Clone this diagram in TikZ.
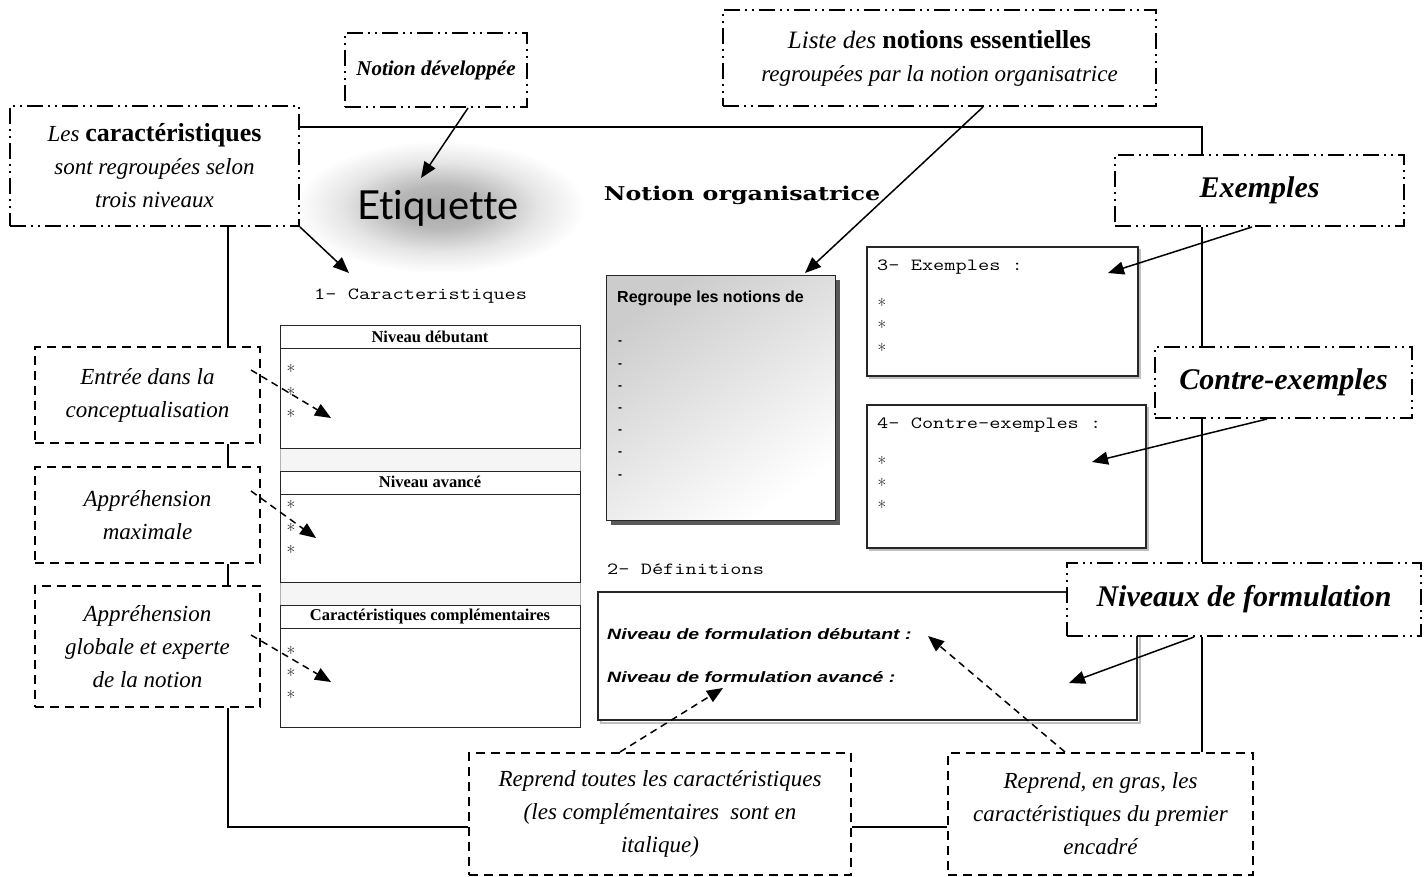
\documentclass[tikz,border=0pt]{standalone}
\usepackage{fontspec}
\usetikzlibrary{arrows.meta,calc}
\newfontfamily\slabfont{DejaVu Serif}
\newfontfamily\tnr{Liberation Serif}
\newfontfamily\etiqfont[Ligatures=NoCommon]{Lato}
\newfontfamily\rsans{Liberation Sans}
\pgfdeclareradialshading{glow}{\pgfpoint{0bp}{0bp}}{color(0bp)=(black!34); color(8bp)=(black!28); color(17bp)=(black!10); color(25bp)=(white); color(50bp)=(white)}
\newcommand{\monolbl}[1]{\scalebox{1.28}[1]{\ttfamily\fontsize{17}{17}\selectfont #1}}
\newcommand{\bw}[1]{{\fontsize{26}{26}\selectfont\bfseries\upshape #1}}
\tikzset{
  ddot/.style={draw, line width=2pt, dash pattern=on 16pt off 5pt on 2pt off 5pt on 2pt off 5pt, fill=white, inner sep=0pt, align=center},
  dbox/.style={draw, line width=2pt, dash pattern=on 9pt off 6pt, fill=white, inner sep=0pt, align=center},
  itxt/.style={font=\tnr\fontsize{23}{33}\selectfont\itshape},
  btxt/.style={font=\tnr\fontsize{30}{32}\selectfont\bfseries\itshape},
  conn/.style={line width=1.8pt},
  arr/.style={line width=1.5pt, -{Triangle[length=16pt,width=13pt]}},
  darr/.style={line width=1.5pt, dash pattern=on 7pt off 5pt, -{Triangle[length=16pt,width=13pt]}},
  tbl/.style={line width=1pt, draw=black!85},
  hdr/.style={font=\tnr\bfseries\fontsize{16.5}{16.5}\selectfont},
  ast/.style={font=\fontsize{19}{19}\selectfont, inner sep=0pt},
  dsh/.style={font=\rsans\bfseries\fontsize{12}{12}\selectfont, inner sep=0pt},
  deftxt/.style={font=\rsans\bfseries\itshape\fontsize{15}{15}\selectfont, anchor=west, inner sep=0pt},
}
\begin{document}
\begin{tikzpicture}[x=1pt,y=-1pt]
\useasboundingbox (0,0) rectangle (1425,876);
\fill[white] (0,0) rectangle (1425,876);
% ---- screenshot content ----
\shade[shading=glow] (440,207) ellipse [x radius=145pt, y radius=66pt];
\node[font=\etiqfont\fontsize{40}{40}\selectfont, inner sep=0pt] (etiq) at (438,208) {Etiquette};
\node[inner sep=0pt] (norg) at (742,195) {\scalebox{1.25}[1]{\slabfont\bfseries\fontsize{19}{19}\selectfont Notion organisatrice}};
\node[anchor=west, inner sep=0pt] (lcar) at (314,296) {\monolbl{1- Caracteristiques}};
% tables
\fill[black!4] (280,448) rectangle (580,471);
\draw[black!30, line width=0.8pt] (280,448) rectangle (580,471);
\fill[black!4] (280,582) rectangle (580,605);
\draw[black!30, line width=0.8pt] (280,582) rectangle (580,605);
\draw[tbl, fill=white] (280,325) rectangle (580,448);
\draw[tbl] (280,348) -- (580,348);
\draw[tbl, fill=white] (280,471) rectangle (580,582);
\draw[tbl] (280,494) -- (580,494);
\draw[tbl, fill=white] (280,605) rectangle (580,727);
\draw[tbl] (280,628) -- (580,628);
\node[hdr] (h1) at (430,337) {Niveau débutant};
\node[hdr] (h2) at (430,482) {Niveau avancé};
\node[hdr] (h3) at (430,617) {Caractéristiques complémentaires};
\foreach \y [count=\i] in {368,391,413,504,527,549,650,672,694} \node[ast] (ta\i) at (291,\y+3) {*};
% grey box
\fill[black!65] (611,280) rectangle (840,525);
\shade[shading=axis, top color=black!20, bottom color=white, shading angle=35] (606,275) rectangle (835,520);
\draw[black!85, line width=1pt] (606,275) rectangle (835,520);
\node[font=\rsans\bfseries\fontsize{16}{16}\selectfont, anchor=west, inner sep=0pt] (regr) at (617,298) {Regroupe les notions de};
\foreach \y [count=\i] in {343,366,388,410,432,454,477} \node[dsh] (gd\i) at (620,\y) {-};
% 3- exemples
\draw[black!25, line width=2pt] (870,250) rectangle (1140,378);
\draw[black!85, line width=1.2pt, fill=white] (867,247) rectangle (1138,376);
\node[anchor=west, inner sep=0pt] (ex3) at (877,267) {\monolbl{3- Exemples :}};
\foreach \y [count=\i] in {302,324,347} \node[ast] (ea\i) at (882,\y+3) {*};
% 4- contre-exemples
\draw[black!25, line width=2pt] (870,408) rectangle (1148,550);
\draw[black!85, line width=1.2pt, fill=white] (867,405) rectangle (1146,548);
\node[anchor=west, inner sep=0pt] (cx4) at (877,425) {\monolbl{4- Contre-exemples :}};
\foreach \y [count=\i] in {460,482,504} \node[ast] (ca\i) at (882,\y+3) {*};
% 2- definitions
\node[anchor=west, inner sep=0pt] (def2) at (607,569) {\monolbl{2- Définitions}};
\draw[black!25, line width=2pt] (601,595) rectangle (1140,723);
\draw[black!85, line width=1.2pt, fill=white] (598,592) rectangle (1137,720);
\node[deftxt] (fdeb) at (607,634) {\scalebox{1.3}[1]{Niveau de formulation débutant :}};
\node[deftxt] (favc) at (607,677) {\scalebox{1.3}[1]{Niveau de formulation avancé :}};
% ---- callouts ----
\coordinate (rtrunk) at (1202,0);
\coordinate (ltrunk) at (228,0);
\node[ddot, itxt, minimum width=289pt, minimum height=120pt] (bcar) at (154.5,166) {Les \bw{caractéristiques}\\sont regroupées selon\\trois niveaux};
\node[ddot, font=\tnr\fontsize{21}{24}\selectfont\bfseries\itshape, minimum width=182pt, minimum height=74pt] (bdev) at (436,70) {Notion développée};
\node[ddot, itxt, minimum width=433pt, minimum height=96pt] (bliste) at (939.5,58) {{\fontsize{25}{25}\selectfont Liste des \bw{notions essentielles}}\\regroupées par la notion organisatrice};
\node[ddot, btxt, minimum width=289pt, minimum height=71pt] (bex) at (1259.5,190.5) {Exemples};
\node[ddot, btxt, minimum width=257pt, minimum height=71pt] (bcx) at (1283.5,382.5) {Contre-exemples};
\node[ddot, btxt, minimum width=354pt, minimum height=73pt] (bniv) at (1244,599.5) {Niveaux de formulation};
\node[dbox, itxt, minimum width=225pt, minimum height=96pt] (bent) at (147.5,395) {Entrée dans la\\conceptualisation};
\node[dbox, itxt, minimum width=225pt, minimum height=96pt] (bmax) at (147.5,515) {Appréhension\\maximale};
\node[dbox, itxt, minimum width=225pt, minimum height=121pt] (bglo) at (147.5,646.5) {Appréhension\\globale et experte\\de la notion};
\node[dbox, itxt, minimum width=382pt, minimum height=122pt] (btout) at (660,814) {Reprend toutes les caractéristiques\\(les complémentaires\ \ sont en\\italique)};
\node[dbox, itxt, minimum width=305pt, minimum height=122pt] (bgras) at (1100.5,814) {Reprend, en gras, les\\caractéristiques du premier\\encadré};
% ---- solid connectors ----
\draw[conn] ([yshift=-22pt]bcar.north east) -| (bex.north -| rtrunk);
\draw[conn] (bex.south -| rtrunk) -- (bcx.north -| rtrunk);
\draw[conn] (bcx.south -| rtrunk) -- (bniv.north -| rtrunk);
\draw[conn] (bniv.south -| rtrunk) -- (bgras.north -| rtrunk);
\draw[conn] (bcar.south -| ltrunk) -- (bent.north -| ltrunk);
\draw[conn] (bent.south -| ltrunk) -- (bmax.north -| ltrunk);
\draw[conn] (bmax.south -| ltrunk) -- (bglo.north -| ltrunk);
\draw[conn] (bglo.south -| ltrunk) |- ([yshift=-13pt]btout.west);
\draw[conn] ([yshift=-13pt]btout.east) -- ([yshift=-13pt]bgras.west);
% ---- arrows ----
\coordinate (tEtiq) at (421,178);
\coordinate (tCar) at (349,273);
\coordinate (tGray) at (805,273);
\coordinate (tEx) at (1108,273);
\coordinate (tCx) at (1092,462);
\coordinate (tNiv) at (1069,683);
\draw[arr] (bdev.south -| 468,0) -- (tEtiq);
\draw[arr] (bcar.south east) -- (tCar);
\draw[arr] (bliste.south -| 983,0) -- (tGray);
\draw[arr] (bex.south -| 1252,0) -- (tEx);
\draw[arr] (bcx.south -| 1267,0) -- (tCx);
\draw[arr] (bniv.south -| 1194,0) -- (tNiv);
\coordinate (sEnt) at (251,370); \coordinate (tEnt) at (331,418);
\coordinate (sMax) at (251,491); \coordinate (tMax) at (316,538);
\coordinate (sGlo) at (251,635); \coordinate (tGlo) at (331,682);
\draw[darr] (sEnt) -- (tEnt);
\draw[darr] (sMax) -- (tMax);
\draw[darr] (sGlo) -- (tGlo);
\coordinate (tAvc) at (723,688);
\coordinate (tDeb) at (928,636);
\draw[darr] (btout.north -| 620,0) -- (tAvc);
\draw[darr] (bgras.north -| 1065,0) -- (tDeb);
\end{tikzpicture}
\end{document}
